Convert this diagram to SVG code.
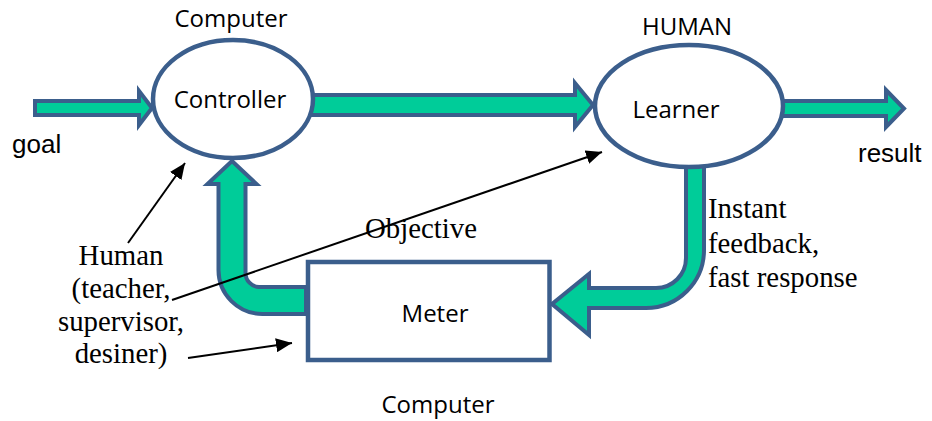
<svg xmlns="http://www.w3.org/2000/svg" width="932" height="421" viewBox="0 0 932 421">
<style>
.blk{fill:#00CC99;stroke:#3B5E8C;stroke-width:4;stroke-linejoin:miter}
.node{fill:#ffffff;stroke:#3B5E8C;stroke-width:4.5}
.sans{font-family:"Open Sans","Liberation Sans",sans-serif;font-size:24px;fill:#000}
.arial{font-family:"Liberation Sans",Arial,sans-serif;font-size:26px;fill:#000}
.serif{font-family:"Liberation Serif","Times New Roman",serif;font-size:28.8px;fill:#000}
.ptr{stroke:#000;stroke-width:2;fill:none;marker-end:url(#ah)}
</style>
<defs>
<marker id="ah" markerUnits="userSpaceOnUse" markerWidth="18" markerHeight="14" refX="16" refY="7" orient="auto">
<path d="M0,0 L16,7 L0,14 Z" fill="#000"/>
</marker>
</defs>
<rect width="932" height="421" fill="#fff"/>
<g id="connectors">
<path id="goal-arrow" class="blk" d="M35,101 H139 V91 L152,108 L139,125 V115 H35 Z"/>
<path id="ctrl-to-learner" class="blk" d="M310,95 H575 V83 L593,105 L575,127 V115 H310 Z"/>
<path id="result-arrow" class="blk" d="M780,101 H886 V90 L904,108.5 L886,127 V116 H780 Z"/>
<path id="meter-to-ctrl" class="blk" stroke-width="5" d="M306,287 H259 A14,14 0 0 1 245.5,273 V184 H256.5 L232,161 L207.5,184 H218.5 V270 A44,44 0 0 0 262.5,314 H306 Z"/>
<path id="learner-to-meter" class="blk" d="M686,160 V258 A30,30 0 0 1 656,288 H589 V274 L552,304 L589,335 V308 H646 A58,58 0 0 0 704,250 V160 Z"/>
<line class="ptr" x1="128" y1="243" x2="185" y2="163"/>
<line class="ptr" x1="172" y1="300" x2="602" y2="152"/>
<line class="ptr" x1="188" y1="358" x2="292" y2="343"/>
</g>
<g id="controller">
<ellipse class="node" cx="233" cy="99" rx="80" ry="59"/>
<text class="sans" x="230" y="108" text-anchor="middle">Controller</text>
<text class="sans" x="231" y="27" text-anchor="middle">Computer</text>
</g>
<g id="learner">
<ellipse class="node" cx="689" cy="106" rx="94" ry="61"/>
<text class="sans" x="676" y="118" text-anchor="middle">Learner</text>
<text class="sans" x="687" y="35" text-anchor="middle">HUMAN</text>
</g>
<g id="meter">
<rect class="node" x="308" y="262" width="241.5" height="98"/>
<text class="sans" x="435" y="322" text-anchor="middle">Meter</text>
<text class="sans" x="438" y="413" text-anchor="middle">Computer</text>
</g>
<g id="labels">
<text class="arial" x="12" y="153">goal</text>
<text class="arial" x="858" y="162">result</text>
<text class="serif" x="708" y="218">Instant</text>
<text class="serif" x="708" y="253">feedback,</text>
<text class="serif" x="708" y="287">fast response</text>
<text class="serif" x="365" y="238">Objective</text>
<text class="serif" x="121" y="265" text-anchor="middle">Human</text>
<text class="serif" x="121" y="298" text-anchor="middle">(teacher,</text>
<text class="serif" x="121" y="331" text-anchor="middle">supervisor,</text>
<text class="serif" x="121" y="363" text-anchor="middle">desiner)</text>
</g>
</svg>
